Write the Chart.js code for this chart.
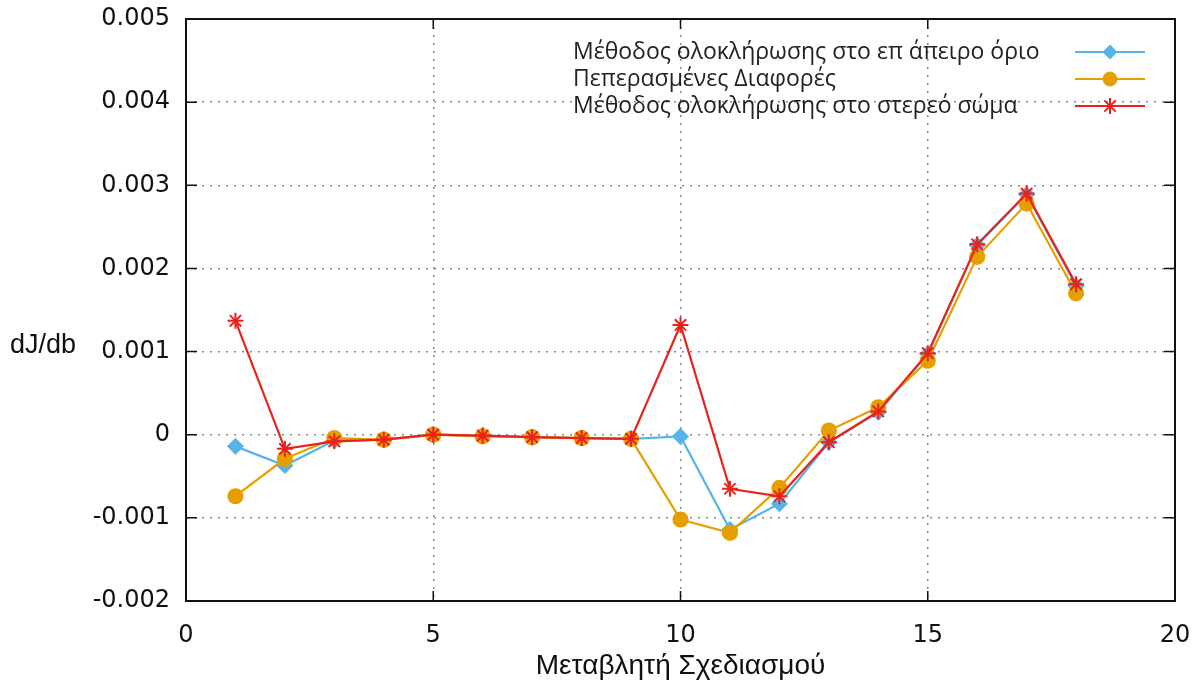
<!DOCTYPE html>
<html>
<head>
<meta charset="utf-8">
<script src="https://cdn.jsdelivr.net/npm/chart.js@4"></script>
<style>
  html, body { margin: 0; padding: 0; background: #fff; }
  #wrap { width: 1200px; height: 685px; }
</style>
</head>
<body>
<div id="wrap"><canvas id="myChart" width="1200" height="685"></canvas></div>
<script>
// design variable index on the x axis
var variables = [1, 2, 3, 4, 5, 6, 7, 8, 9, 10, 11, 12, 13, 14, 15, 16, 17, 18];

// dJ/db per method
var farField = [-0.00014, -0.00037, -0.00007, -0.00006, 0.0, -0.00001, -0.00003, -0.00004, -0.00005,
                -0.00002, -0.00114, -0.00083, -0.00009, 0.00027, 0.00097, 0.00228, 0.00289, 0.00179];
var finiteDiff = [-0.00074, -0.00029, -0.00004, -0.00006, 0.0, -0.00002, -0.00003, -0.00004, -0.00005,
                  -0.00102, -0.00118, -0.00064, 0.00005, 0.00033, 0.00089, 0.00214, 0.00278, 0.0017];
var solidBody = [0.00137, -0.00017, -0.00008, -0.00006, 0.0, -0.00001, -0.00003, -0.00004, -0.00005,
                 0.00132, -0.00065, -0.00074, -0.00009, 0.00028, 0.00098, 0.00229, 0.0029, 0.00181];

var seriesNames = ["Μέθοδος ολοκλήρωσης στο επ άπειρο όριο",
                   "Πεπερασμένες Διαφορές",
                   "Μέθοδος ολοκλήρωσης στο στερεό σώμα"];

var xTitle = "Μεταβλητή Σχεδιασμού";
var yTitle = "dJ/db";

function toPoints(vals) {
  return vals.map(function (v, i) { return {x: variables[i], y: v}; });
}

// frame, inward tick marks, axis labels and the key
var decorations = {
  id: 'decorations',
  beforeDatasetsDraw: function (chart) {
    var ctx = chart.ctx, a = chart.chartArea;
    var xs = chart.scales.x, ys = chart.scales.y;
    ctx.save();
    ctx.strokeStyle = '#111';
    ctx.lineWidth = 1.5;
    ctx.beginPath();
    xs.ticks.forEach(function (t) {
      var px = xs.getPixelForValue(t.value);
      ctx.moveTo(px, a.bottom); ctx.lineTo(px, a.bottom - 10);
      ctx.moveTo(px, a.top); ctx.lineTo(px, a.top + 10);
    });
    ys.ticks.forEach(function (t) {
      var py = ys.getPixelForValue(t.value);
      ctx.moveTo(a.left, py); ctx.lineTo(a.left + 11, py);
      ctx.moveTo(a.right, py); ctx.lineTo(a.right - 11, py);
    });
    ctx.stroke();
    ctx.lineWidth = 2;
    ctx.strokeRect(a.left, a.top, a.right - a.left, a.bottom - a.top);
    ctx.restore();
  },
  afterDraw: function (chart) {
    var ctx = chart.ctx, a = chart.chartArea;
    ctx.save();
    ctx.fillStyle = '#111';
    ctx.font = '27px "Liberation Sans", Arial, sans-serif';
    ctx.textAlign = 'left';
    ctx.textBaseline = 'alphabetic';
    ctx.fillText(yTitle, 10, 353);

    ctx.font = '28px "Liberation Sans", Arial, sans-serif';
    ctx.textAlign = 'center';
    ctx.fillText(xTitle, (a.left + a.right) / 2, 674);

    // key: text first, then a line sample with its marker
    ctx.font = '23px "Open Sans", sans-serif';
    ctx.textBaseline = 'middle';
    chart.data.datasets.forEach(function (ds, i) {
      var y = 52 + i * 27;
      ctx.fillStyle = '#222';
      ctx.textAlign = 'left';
      ctx.fillText(ds.label, 573, y);
      ctx.strokeStyle = ds.borderColor;
      ctx.lineWidth = 2;
      ctx.beginPath();
      ctx.moveTo(1075, y); ctx.lineTo(1145, y);
      ctx.stroke();
      ctx.fillStyle = ds.pointBackgroundColor;
      ctx.strokeStyle = ds.pointBorderColor;
      ctx.lineWidth = ds.pointBorderWidth || 1;
      Chart.helpers.drawPoint(ctx, {
        pointStyle: ds.pointStyle,
        radius: ds.pointRadius,
        borderWidth: ds.pointBorderWidth || 1,
        rotation: 0
      }, 1110, y);
    });
    ctx.restore();
  }
};

function createChart() {
  var ctx = document.getElementById('myChart').getContext('2d');
  var common = {
    showLine: true,
    borderWidth: 2.2,
    fill: false,
    tension: 0
  };
  var chart = new Chart(ctx, {
    type: 'scatter',
    data: {
      datasets: [
        Object.assign({}, common, {
          label: seriesNames[0],
          data: toPoints(farField),
          borderColor: '#56b4e9',
          backgroundColor: '#56b4e9',
          pointBackgroundColor: '#56b4e9',
          pointBorderColor: '#56b4e9',
          pointStyle: 'rectRot',
          pointRadius: 7,
          order: 3
        }),
        Object.assign({}, common, {
          label: seriesNames[1],
          data: toPoints(finiteDiff),
          borderColor: '#e69f00',
          backgroundColor: '#e69f00',
          pointBackgroundColor: '#e69f00',
          pointBorderColor: '#e69f00',
          pointStyle: 'circle',
          pointRadius: 7,
          order: 2
        }),
        Object.assign({}, common, {
          label: seriesNames[2],
          data: toPoints(solidBody),
          borderColor: '#e8231b',
          backgroundColor: '#e8231b',
          pointBackgroundColor: '#e8231b',
          pointBorderColor: '#e8231b',
          pointStyle: 'star',
          pointRadius: 8,
          pointBorderWidth: 2,
          order: 1
        })
      ]
    },
    options: {
      responsive: false,
      animation: false,
      layout: { padding: { top: 19, right: 25, left: 0, bottom: 0 } },
      plugins: {
        legend: { display: false },
        tooltip: { enabled: false }
      },
      scales: {
        x: {
          type: 'linear',
          min: 0, max: 20,
          afterFit: function (s) {
            s.height = 84;
            s.paddingLeft = 0; s.paddingRight = 0;
          },
          ticks: { stepSize: 5, padding: 20, color: '#111',
                   font: { family: 'DejaVu Sans', size: 24 } },
          grid: { color: '#888', lineWidth: 1.5, drawTicks: false },
          border: { display: false, dash: [2, 6] }
        },
        y: {
          min: -0.002, max: 0.005,
          afterFit: function (s) {
            s.width = 186;
            s.paddingTop = 0; s.paddingBottom = 0;
          },
          ticks: { stepSize: 0.001, padding: 16, color: '#111',
                   font: { family: 'DejaVu Sans', size: 24 },
                   callback: function (v) { return Math.abs(v) < 1e-9 ? '0' : v.toFixed(3); } },
          grid: { color: '#888', lineWidth: 1.5, drawTicks: false },
          border: { display: false, dash: [2, 6] }
        }
      }
    },
    plugins: [decorations]
  });
}

createChart();
</script>
</body>
</html>
